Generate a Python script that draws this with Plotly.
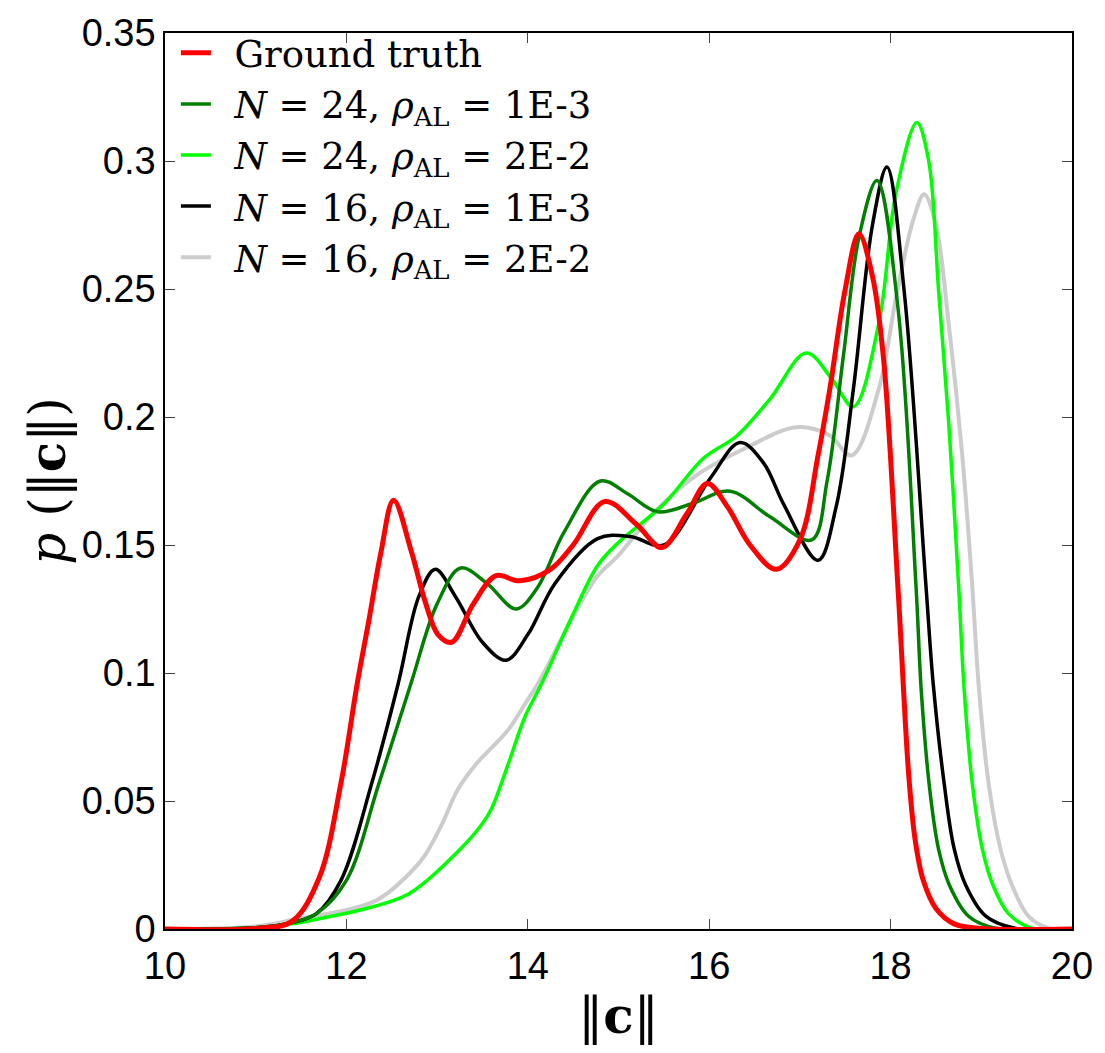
import plotly.graph_objects as go

# ---------------- data ----------------
x_red = [10, 11.0, 11.4, 11.7, 11.94, 12.12, 12.25, 12.38, 12.52, 12.72, 12.87, 13.01, 13.16, 13.4, 13.65,
         13.91, 14.25, 14.5, 14.85, 15.2, 15.48, 15.75, 15.98, 16.2, 16.45, 16.74, 17.0, 17.2, 17.33,
         17.5, 17.65, 17.8, 17.92, 18.08, 18.2, 18.27, 18.36, 18.5, 18.7, 19.0, 20]
y_red = [0, 0.0002, 0.003, 0.02, 0.057, 0.096, 0.121, 0.147, 0.1675, 0.147, 0.1277, 0.115, 0.112, 0.127, 0.138,
         0.136, 0.1405, 0.150, 0.167, 0.158, 0.149, 0.162, 0.174, 0.165, 0.150, 0.1405, 0.152, 0.185, 0.211,
         0.250, 0.2716, 0.255, 0.2236, 0.134, 0.060, 0.035, 0.019, 0.008, 0.002, 0.0002, 0]

x_dg = [10, 11.0, 11.4, 11.67, 12.0, 12.36, 12.71, 13.0, 13.26, 13.55, 13.87, 14.1, 14.4, 14.8, 15.1, 15.43,
        15.8, 16.23, 16.67, 17.13, 17.3, 17.48, 17.65, 17.85, 18.08, 18.28, 18.34, 18.43, 18.53, 18.65,
        18.86, 19.16, 20]
y_dg = [0, 0.0005, 0.0025, 0.006, 0.019, 0.057, 0.0957, 0.127, 0.141, 0.135, 0.125, 0.133, 0.155, 0.175, 0.170,
        0.163, 0.166, 0.171, 0.161, 0.152, 0.175, 0.224, 0.270, 0.2924, 0.243, 0.134, 0.092, 0.055, 0.031,
        0.017, 0.005, 0.0003, 0]

x_lg = [10, 11.0, 11.4, 11.78, 12.14, 12.69, 13.23, 13.49, 13.6, 13.78, 13.97, 14.15, 14.5, 14.77, 15.0, 15.5,
        15.94, 16.3, 16.67, 17.07, 17.35, 17.59, 17.87, 18.06, 18.29, 18.42, 18.53, 18.64, 18.75, 18.81,
        18.9, 19.01, 19.13, 19.3, 19.56, 20]
y_lg = [0, 0.0005, 0.002, 0.0046, 0.0073, 0.0138, 0.0303, 0.0407, 0.047, 0.064, 0.083, 0.0957, 0.123, 0.142,
        0.151, 0.166, 0.184, 0.1925, 0.207, 0.225, 0.215, 0.204, 0.2366, 0.2877, 0.315, 0.300, 0.249, 0.198,
        0.134, 0.094, 0.057, 0.0315, 0.017, 0.006, 0.0003, 0]

x_bk = [10, 11.0, 11.4, 11.67, 11.94, 12.28, 12.57, 12.8, 12.98, 13.2, 13.5, 13.76, 14.0, 14.3, 14.77, 15.13,
        15.5, 16.01, 16.34, 16.6, 16.82, 17.2, 17.4, 17.59, 17.8, 17.96, 18.15, 18.39, 18.47, 18.59, 18.7,
        18.83, 19.05, 19.37, 20]
y_bk = [0, 0.0005, 0.0025, 0.006, 0.019, 0.057, 0.0957, 0.130, 0.1405, 0.130, 0.112, 0.105, 0.115, 0.135, 0.1525,
        0.1533, 0.150, 0.176, 0.190, 0.182, 0.166, 0.144, 0.165, 0.211, 0.275, 0.2977, 0.249, 0.134, 0.0957,
        0.057, 0.0315, 0.017, 0.005, 0.0003, 0]

x_gy = [10, 11.0, 11.4, 12.32, 12.69, 12.87, 13.05, 13.23, 13.42, 13.78, 13.97, 14.11, 14.5, 14.77, 14.99,
        15.4, 15.87, 16.41, 16.96, 17.32, 17.57, 17.87, 18.06, 18.25, 18.37, 18.5, 18.64, 18.79, 18.9, 18.97,
        19.08, 19.21, 19.34, 19.52, 19.74, 20]
y_gy = [0, 0.001, 0.0035, 0.011, 0.0215, 0.029, 0.0407, 0.0546, 0.064, 0.0776, 0.088, 0.0957, 0.122, 0.138,
        0.1456, 0.163, 0.1775, 0.188, 0.196, 0.193, 0.185, 0.211, 0.2466, 0.277, 0.287, 0.275, 0.2366, 0.185,
        0.134, 0.0957, 0.057, 0.0315, 0.017, 0.005, 0.0003, 0]

names = ["Ground truth",
         "<i>N</i> = 24, <i>ρ</i><sub>AL</sub> = 1E-3",
         "<i>N</i> = 24, <i>ρ</i><sub>AL</sub> = 2E-2",
         "<i>N</i> = 16, <i>ρ</i><sub>AL</sub> = 1E-3",
         "<i>N</i> = 16, <i>ρ</i><sub>AL</sub> = 2E-2"]
x_ticks = [10, 12, 14, 16, 18, 20]
y_ticks = [0, 0.05, 0.1, 0.15, 0.2, 0.25, 0.3, 0.35]
y_tick_text = ["0", "0.05", "0.1", "0.15", "0.2", "0.25", "0.3", "0.35"]

# ---------------- figure ----------------
series = [(x_red, y_red, "#ff0000", 5),
          (x_dg, y_dg, "#007f00", 3.5),
          (x_lg, y_lg, "#00ff00", 3.5),
          (x_bk, y_bk, "#000000", 3.5),
          (x_gy, y_gy, "#cccccc", 4)]

fig = go.Figure()
order = [4, 2, 3, 1, 0]
for i in order:
    xs, ys, col, w = series[i]
    fig.add_trace(go.Scatter(x=xs, y=ys, mode="lines", name="\u2002" + names[i],
                             line=dict(color=col, width=w, shape="spline", smoothing=1.0),
                             legendrank=i + 1))

axis_common = dict(showline=True, linecolor="black", linewidth=1.5, mirror="ticks",
                   ticks="inside", ticklen=10, tickwidth=1, tickcolor="#444",
                   showgrid=False, zeroline=False)

fig.update_layout(
    width=1105, height=1053,
    margin=dict(l=165, r=28, t=18, b=124),
    paper_bgcolor="white", plot_bgcolor="white",
    showlegend=True,
    legend=dict(x=0.012, y=1.012, xanchor="left", yanchor="top",
                bgcolor="rgba(255,255,255,0)", borderwidth=0,
                font=dict(family="DejaVu Serif, serif", size=37, color="black"),
                itemwidth=30, tracegroupgap=0),
    xaxis=dict(range=[10, 20], tickvals=x_ticks, **axis_common, ticklabelstandoff=3,
               tickfont=dict(family="Liberation Sans, Arial", size=38, color="black"),
               title=dict(text="‖<b>c</b>‖", standoff=12,
                          font=dict(family="DejaVu Serif, serif", size=50, color="black"))),
    yaxis=dict(range=[0, 0.35], tickvals=y_ticks, ticktext=y_tick_text, **axis_common,
               tickfont=dict(family="Liberation Sans, Arial", size=38, color="black"),
               title=dict(text="<i>p</i> (‖<b>c</b>‖)", standoff=0,
                          font=dict(family="DejaVu Serif, serif", size=50, color="black"))),
)

fig.write_html("out.html")
